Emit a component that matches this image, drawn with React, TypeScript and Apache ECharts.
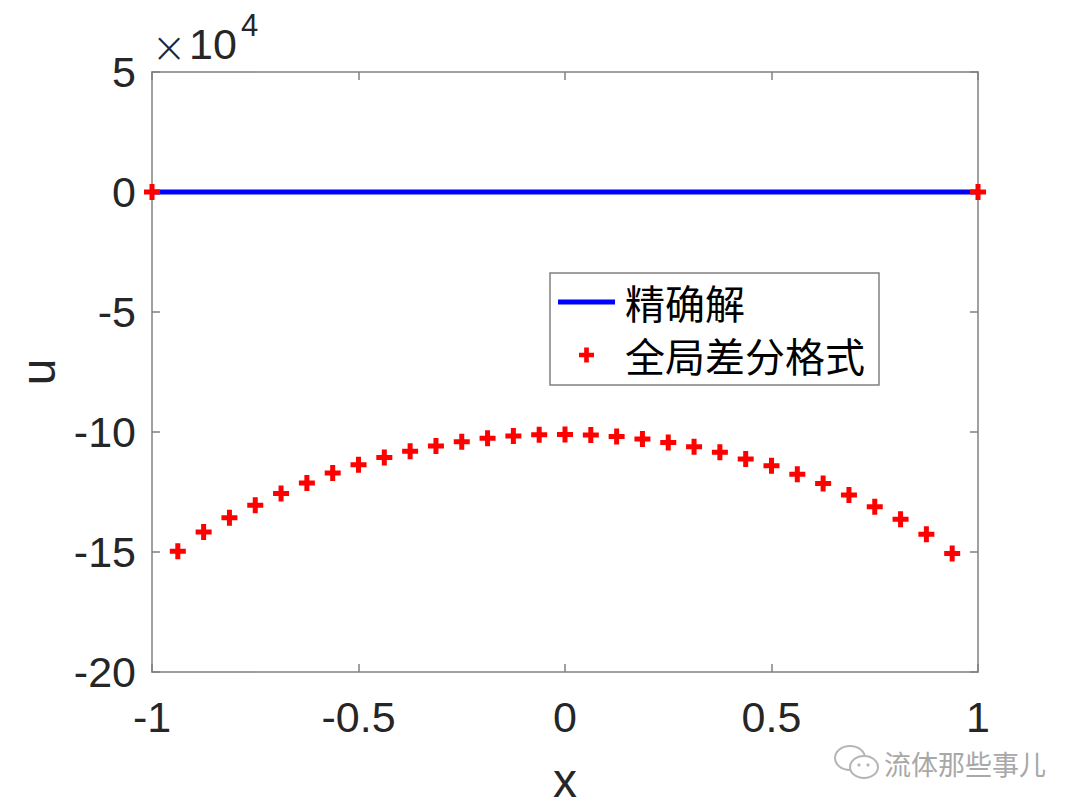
import React, { useEffect, useRef } from "react";
import * as echarts from "echarts";

// grid nodes (x) and numerical solution u (in units of 1e4)
const xNodes = [
  -1, -0.9375, -0.875, -0.8125, -0.75, -0.6875, -0.625, -0.5625, -0.5, -0.4375, -0.375,
  -0.3125, -0.25, -0.1875, -0.125, -0.0625, 0, 0.0625, 0.125, 0.1875, 0.25, 0.3125, 0.375,
  0.4375, 0.5, 0.5625, 0.625, 0.6875, 0.75, 0.8125, 0.875, 0.9375, 1,
];
const uNumeric = [
  0, -14.97, -14.17, -13.57, -13.05, -12.56, -12.12, -11.71, -11.36, -11.06, -10.8,
  -10.58, -10.41, -10.26, -10.17, -10.11, -10.1, -10.12, -10.19, -10.29, -10.44, -10.61,
  -10.84, -11.12, -11.41, -11.76, -12.15, -12.62, -13.11, -13.64, -14.26, -15.06, 0,
];
// exact solution
const exactX = [-1, 1];
const exactU = [0, 0];

const seriesNames = ["精确解", "全局差分格式"];
const xRange = [-1, 1];
const xStep = 0.5;
const yRange = [-20, 5];
const yStep = 5;
const exponentTimes = "×";
const exponentBase = "10";
const exponentPower = "4";
const watermarkText = "流体那些事儿";

const PLUS = "path://M5.5,0H10.5V5.5H16V10.5H10.5V16H5.5V10.5H0V5.5H5.5Z";
const LINE_ICON = "path://M0,0H57V5H0Z";
const LATIN = "'Liberation Sans', Arial, Helvetica, sans-serif";
const CJK = "'Noto Sans CJK SC', sans-serif";
const AXIS_GRAY = "#808080";
const TEXT = "#262626";

export default function App() {
  const ref = useRef<HTMLDivElement>(null);
  useEffect(() => {
    if (!ref.current) return;
    const chart = echarts.init(ref.current, null, { renderer: "svg" });
    const axisLine = { show: true, onZero: false, lineStyle: { color: AXIS_GRAY, width: 1.5 } };
    const tick = { show: true, inside: true, length: 8, lineStyle: { color: AXIS_GRAY, width: 1.5 } };
    chart.setOption({
      animation: false,
      backgroundColor: "#ffffff",
      grid: { left: 152, right: 102, top: 72, bottom: 138, containLabel: false },
      xAxis: [
        {
          type: "value",
          min: xRange[0],
          max: xRange[1],
          interval: xStep,
          position: "bottom",
          axisLine,
          axisTick: tick,
          splitLine: { show: false },
          axisLabel: { fontFamily: LATIN, fontSize: 43, color: TEXT, margin: 23 },
          name: "x",
          nameLocation: "middle",
          nameGap: 84,
          nameTextStyle: { fontFamily: LATIN, fontSize: 48, color: TEXT },
        },
        {
          type: "value",
          min: xRange[0],
          max: xRange[1],
          interval: xStep,
          position: "top",
          axisLine,
          axisTick: tick,
          splitLine: { show: false },
          axisLabel: { show: false },
        },
      ],
      yAxis: [
        {
          type: "value",
          min: yRange[0],
          max: yRange[1],
          interval: yStep,
          position: "left",
          axisLine,
          axisTick: tick,
          splitLine: { show: false },
          axisLabel: { fontFamily: LATIN, fontSize: 43, color: TEXT, margin: 16 },
          name: "u",
          nameLocation: "middle",
          nameGap: 90,
          nameTextStyle: { fontFamily: LATIN, fontSize: 48, color: TEXT },
        },
        {
          type: "value",
          min: yRange[0],
          max: yRange[1],
          interval: yStep,
          position: "right",
          axisLine,
          axisTick: tick,
          splitLine: { show: false },
          axisLabel: { show: false },
        },
      ],
      legend: {
        orient: "vertical",
        left: 550,
        top: 273,
        padding: [7, 14, 8, 8],
        itemGap: 9,
        itemWidth: 57,
        itemHeight: 15,
        symbolKeepAspect: true,
        backgroundColor: "#ffffff",
        borderColor: AXIS_GRAY,
        borderWidth: 1.5,
        borderRadius: 0,
        selectedMode: false,
        textStyle: { fontFamily: CJK, fontSize: 40, color: "#000", lineHeight: 44, padding: [0, 0, 0, 5] },
        data: [
          { name: seriesNames[0], icon: LINE_ICON, itemStyle: { color: "#0000ff" } },
          { name: seriesNames[1], icon: PLUS, itemStyle: { color: "#ff0000", opacity: 1 } },
        ],
      },
      series: [
        {
          name: seriesNames[0],
          type: "line",
          data: exactX.map((x, i) => [x, exactU[i]]),
          symbol: "none",
          lineStyle: { color: "#0000ff", width: 5 },
          itemStyle: { color: "#0000ff" },
          z: 2,
        },
        {
          name: seriesNames[1],
          type: "scatter",
          data: xNodes.map((x, i) => [x, uNumeric[i]]),
          symbol: PLUS,
          symbolSize: 16,
          itemStyle: { color: "#ff0000", opacity: 1 },
          z: 3,
        },
      ],
      graphic: [
        {
          type: "text",
          x: 169,
          y: 47,
          style: {
            text: exponentTimes,
            fontFamily: "'DejaVu Sans', sans-serif",
            fontSize: 42,
            fontWeight: 200,
            fill: TEXT,
            align: "center",
            verticalAlign: "middle",
          },
        },
        {
          type: "text",
          left: 189,
          top: 22,
          style: { text: exponentBase, fontFamily: LATIN, fontSize: 43, fill: TEXT },
        },
        {
          type: "text",
          left: 241,
          top: 10,
          style: { text: exponentPower, fontFamily: LATIN, fontSize: 31, fill: TEXT },
        },
        // watermark
        {
          type: "group",
          left: 834,
          top: 745,
          children: [
            {
              type: "ellipse",
              shape: { cx: 16, cy: 13, rx: 15, ry: 12 },
              style: { fill: "#fff", stroke: "#b5b5b5", lineWidth: 2 },
            },
            {
              type: "ellipse",
              shape: { cx: 30, cy: 22, rx: 14, ry: 11 },
              style: { fill: "#fff", stroke: "#b5b5b5", lineWidth: 2 },
            },
            { type: "circle", shape: { cx: 25, cy: 20, r: 1.6 }, style: { fill: "#b5b5b5" } },
            { type: "circle", shape: { cx: 34, cy: 20, r: 1.6 }, style: { fill: "#b5b5b5" } },
          ],
        },
        {
          type: "text",
          left: 884,
          top: 750,
          style: {
            text: watermarkText,
            fontFamily: CJK,
            fontSize: 27,
            fill: "#a8a8a8",
          },
        },
      ],
    });
    return () => chart.dispose();
  }, []);
  return (
    <div
      ref={ref}
      style={{ position: "fixed", left: 0, top: 0, width: 1080, height: 810, background: "#fff" }}
    />
  );
}
